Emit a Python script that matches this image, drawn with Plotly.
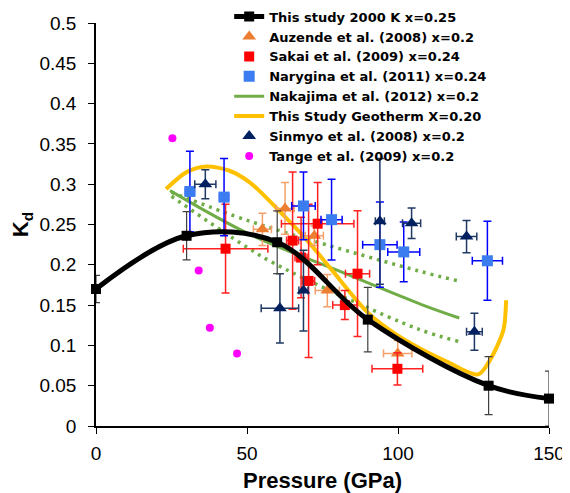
import plotly.graph_objects as go

# ---- data ----
study_P = [0, 30, 60, 90, 130, 150]
study_K = [0.170, 0.236, 0.228, 0.132, 0.050, 0.034]
study_err = [0.017, 0.030, 0.039, 0.040, 0.036, 0.034]

auz_P = [55.1, 62.6, 72.3, 76.6, 99.9]
auz_K = [0.244, 0.270, 0.236, 0.168, 0.090]
auz_yerr = [0.020, 0.032, 0.012, 0.020, 0.016]
auz_xerr = [3.0, 3.0, 3.0, 4.0, 4.7]

sak_P = [42.9, 65.1, 67.9, 70.4, 73.4, 82.4, 86.6, 99.8]
sak_K = [0.220, 0.230, 0.209, 0.180, 0.251, 0.150, 0.189, 0.071]
sak_yerr = [0.055, 0.085, 0.050, 0.095, 0.051, 0.018, 0.078, 0.020]
sak_xerr = [14.0, 2.0, 2.0, 2.0, 12.0, 4.0, 4.0, 8.4]

nar_P = [31.1, 42.4, 68.7, 78.0, 94.0, 101.9, 129.6]
nar_K = [0.291, 0.284, 0.273, 0.256, 0.225, 0.216, 0.205]
nar_yerr = [0.050, 0.048, 0.042, 0.050, 0.053, 0.037, 0.049]
nar_xerr = [1.5, 1.5, 3.9, 3.5, 5.7, 5.3, 5.0]

nak_P = [24.5, 51.3, 80.0, 107.6, 120.3]
nak_K = [0.292, 0.237, 0.193, 0.151, 0.134]
nak_up_P = [25.0, 51.0, 106.2, 120.0]
nak_up_K = [0.290, 0.254, 0.193, 0.180]
nak_lo_P = [25.0, 49.9, 60.9, 106.2, 120.0]
nak_lo_K = [0.285, 0.222, 0.198, 0.121, 0.105]

geo_P = [23.2, 30, 36.6, 44, 51, 60.9, 70, 78, 90.2, 99.6, 108.4, 116.1, 126.6, 130.5, 134.9, 135.8]
geo_K = [0.294, 0.315, 0.322, 0.317, 0.302, 0.266, 0.230, 0.194, 0.140, 0.113, 0.094, 0.080, 0.064, 0.082, 0.119, 0.156]

sin_P = [36.2, 60.9, 68.7, 94.0, 104.5, 122.7, 125.3]
sin_K = [0.300, 0.146, 0.168, 0.254, 0.2515, 0.235, 0.117]
sin_yerr = [0.018, 0.043, 0.050, 0.078, 0.019, 0.020, 0.023]
sin_xerr = [3.5, 6.2, 1.5, 1.5, 3.0, 3.4, 2.6]

tan_P = [25.3, 34.0, 37.7, 46.7]
tan_K = [0.357, 0.193, 0.122, 0.090]

y_ticks = [0, 0.05, 0.1, 0.15, 0.2, 0.25, 0.3, 0.35, 0.4, 0.45, 0.5]
y_ticklabels = ["0", "0.05", "0.1", "0.15", "0.2", "0.25", "0.3", "0.35", "0.4", "0.45", "0.5"]
x_ticks = [0, 50, 100, 150]

FONT = "Liberation Sans, Arial, sans-serif"
LEG_FONT = "DejaVu Sans, Liberation Sans, Arial, sans-serif"

fig = go.Figure()

green = "#70AD47"
fig.add_trace(go.Scatter(x=nak_up_P, y=nak_up_K, mode="lines", showlegend=False,
                         line=dict(color=green, width=3.5, dash="3px,5px", shape="spline")))
fig.add_trace(go.Scatter(x=nak_lo_P, y=nak_lo_K, mode="lines", showlegend=False,
                         line=dict(color=green, width=3.5, dash="3px,5px", shape="spline")))
fig.add_trace(go.Scatter(x=nak_P, y=nak_K, mode="lines", name="Nakajima et al. (2012) x=0.2",
                         legendrank=5, line=dict(color=green, width=3, shape="spline")))
fig.add_trace(go.Scatter(x=geo_P, y=geo_K, mode="lines", name="This Study Geotherm X=0.20",
                         legendrank=6, line=dict(color="#FFC000", width=4, shape="spline", smoothing=0.8)))

fig.add_trace(go.Scatter(x=auz_P, y=auz_K, mode="markers", name="Auzende et al. (2008) x=0.2",
                         legendrank=2, cliponaxis=False,
                         marker=dict(symbol="triangle-up", size=12, color="#ED7D31"),
                         error_y=dict(type="data", array=auz_yerr, color="#F4A06A", thickness=1.5, width=4),
                         error_x=dict(type="data", array=auz_xerr, color="#F4A06A", thickness=1.5, width=4)))
fig.add_trace(go.Scatter(x=sak_P, y=sak_K, mode="markers", name="Sakai et al. (2009) x=0.24",
                         legendrank=3, cliponaxis=False,
                         marker=dict(symbol="square", size=10, color="#FF0000"),
                         error_y=dict(type="data", array=sak_yerr, color="#FF2020", thickness=1.5, width=4),
                         error_x=dict(type="data", array=sak_xerr, color="#FF2020", thickness=1.5, width=4)))
fig.add_trace(go.Scatter(x=nar_P, y=nar_K, mode="markers", name="Narygina et al. (2011) x=0.24",
                         legendrank=4, cliponaxis=False,
                         marker=dict(symbol="square", size=11, color="#3B7DF0"),
                         error_y=dict(type="data", array=nar_yerr, color="#0000FF", thickness=1.5, width=4),
                         error_x=dict(type="data", array=nar_xerr, color="#0000FF", thickness=1.5, width=4)))
fig.add_trace(go.Scatter(x=sin_P, y=sin_K, mode="markers", name="Sinmyo et al. (2008) x=0.2",
                         legendrank=7, cliponaxis=False,
                         marker=dict(symbol="triangle-up", size=12, color="#002060"),
                         error_y=dict(type="data", array=sin_yerr, color="#1F3864", thickness=1.5, width=4),
                         error_x=dict(type="data", array=sin_xerr, color="#1F3864", thickness=1.5, width=4)))
fig.add_trace(go.Scatter(x=tan_P, y=tan_K, mode="markers", name="Tange et al. (2009) x=0.2",
                         legendrank=8, cliponaxis=False,
                         marker=dict(symbol="circle", size=8, color="#FF00FF")))
fig.add_trace(go.Scatter(x=study_P, y=study_K, mode="lines+markers", name="This study 2000 K x=0.25",
                         legendrank=1, cliponaxis=False,
                         line=dict(color="black", width=5, shape="spline"),
                         marker=dict(symbol="square", size=10, color="black"),
                         error_y=dict(type="data", array=study_err, color="#404040", thickness=1.2, width=4)))

# The page body adds an 8px offset, so the figure is sized/margined to compensate.
fig.update_layout(
    width=562, height=485,
    margin=dict(l=88, r=21, t=15, b=67, autoexpand=False),
    paper_bgcolor="white", plot_bgcolor="white",
    font=dict(family=FONT, color="black"),
    showlegend=True,
    legend=dict(x=0.294, y=1.053, xanchor="left", yanchor="top",
                bgcolor="rgba(0,0,0,0)", borderwidth=0,
                font=dict(family=LEG_FONT, size=13, color="black", weight="bold"),
                tracegroupgap=0),
)
fig.update_xaxes(range=[0, 150], tickvals=x_ticks, showline=True, linecolor="black", linewidth=1.5,
                 ticks="outside", ticklen=6, tickcolor="black", showgrid=False, zeroline=False,
                 automargin=False, ticklabelstandoff=3,
                 tickfont=dict(family=FONT, size=19),
                 title=dict(text="Pressure (GPa)", font=dict(family=FONT, size=22, weight="bold"), standoff=11))
fig.update_yaxes(range=[0, 0.5], tickvals=y_ticks, ticktext=y_ticklabels, showline=True, linecolor="black",
                 linewidth=1.5, ticks="outside", ticklen=6, tickcolor="black", showgrid=False, zeroline=False,
                 automargin=False, ticklabelstandoff=8,
                 tickfont=dict(family=FONT, size=19),
                 title=dict(text="K<sub>d</sub>", font=dict(family=FONT, size=22, weight="bold"), standoff=9))

fig.write_html("out.html")
